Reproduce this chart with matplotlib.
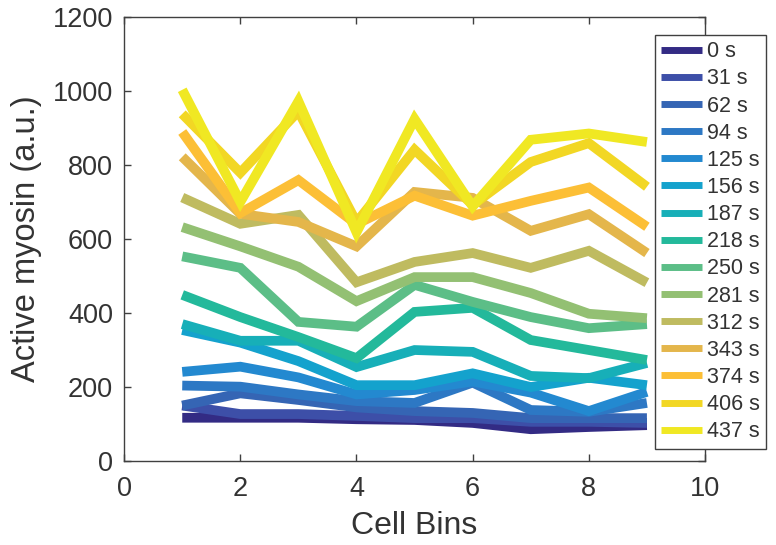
import numpy as np
import matplotlib.pyplot as plt

plt.rcParams['font.family'] = ['Liberation Sans', 'DejaVu Sans']

# cell bins on x axis
cell_bins = [1, 2, 3, 4, 5, 6, 7, 8, 9]

# time points (legend labels)
time_labels = ['0 s', '31 s', '62 s', '94 s', '125 s', '156 s', '187 s', '218 s',
               '250 s', '281 s', '312 s', '343 s', '374 s', '406 s', '437 s']

# active myosin per time point (a.u.)
myosin_0 = [117, 117, 117, 113, 111, 103, 86, 92, 97]
myosin_31 = [150, 127, 127, 122, 116, 116, 106, 106, 103]
myosin_62 = [150, 183, 165, 145, 135, 130, 116, 116, 116]
myosin_94 = [204, 201, 180, 162, 157, 212, 138, 133, 157]
myosin_125 = [241, 255, 226, 180, 192, 215, 185, 135, 187]
myosin_156 = [354, 320, 270, 205, 205, 237, 200, 225, 205]
myosin_187 = [370, 325, 325, 254, 300, 295, 230, 224, 265]
myosin_218 = [449, 389, 335, 278, 403, 414, 327, 300, 273]
myosin_250 = [553, 522, 376, 363, 476, 430, 389, 359, 370]
myosin_281 = [632, 580, 525, 432, 497, 497, 454, 398, 386]
myosin_312 = [712, 641, 665, 483, 538, 562, 522, 568, 482]
myosin_343 = [822, 668, 646, 580, 727, 711, 622, 667, 562]
myosin_374 = [889, 670, 759, 640, 717, 663, 703, 739, 633]
myosin_406 = [938, 779, 945, 645, 841, 692, 808, 859, 741]
myosin_437 = [1003, 700, 972, 618, 924, 688, 868, 885, 862]

series = [myosin_0, myosin_31, myosin_62, myosin_94, myosin_125, myosin_156,
          myosin_187, myosin_218, myosin_250, myosin_281, myosin_312,
          myosin_343, myosin_374, myosin_406, myosin_437]

# parula-like colours
colors = ['#332b84', '#3d4fa8', '#3565b4', '#2d78c4', '#2389d0', '#14a2cd',
          '#17afb8', '#23b99b', '#5cbe87', '#93c073', '#bfbb60', '#e4b64b',
          '#fcbf36', '#f2d724', '#f0e823']

fig = plt.figure(figsize=(7.76, 5.45), dpi=100)
ax = fig.add_axes([0.16, 0.154, 0.7485, 0.815])

for vals, lab, col in zip(series, time_labels, colors):
    ax.plot(cell_bins, vals, color=col, lw=7, label=lab, solid_joinstyle='miter',
            solid_capstyle='butt')

ax.set_xlim(0, 10)
ax.set_ylim(0, 1200)
ax.set_xticks([0, 2, 4, 6, 8, 10])
ax.set_yticks([0, 200, 400, 600, 800, 1000, 1200])
ax.tick_params(direction='in', length=5, width=1, labelsize=19.5, colors='#404040',
               top=True, right=True, labelcolor='#333333', pad=8)
ax.tick_params(axis='x', pad=11)
for sp in ax.spines.values():
    sp.set_color('#404040')
    sp.set_linewidth(1)

ax.set_xlabel('Cell Bins', fontsize=23, color='#333333', labelpad=6)
ax.set_ylabel('Active myosin (a.u.)', fontsize=23.5, color='#333333', labelpad=8)

leg = ax.legend(loc='upper left', bbox_to_anchor=(0.844, 0.936),
                bbox_transform=fig.transFigure, fontsize=15.5, frameon=True,
                fancybox=False, handlelength=1.9, handletextpad=0.2,
                labelspacing=0.285, borderpad=0.3, borderaxespad=0)
leg.get_frame().set_edgecolor('#404040')
leg.get_frame().set_linewidth(1)
leg.get_frame().set_alpha(1)
for h in leg.get_lines():
    h.set_linewidth(5)
for t in leg.get_texts():
    t.set_color('#333333')

fig.savefig('out.png', dpi=100)
